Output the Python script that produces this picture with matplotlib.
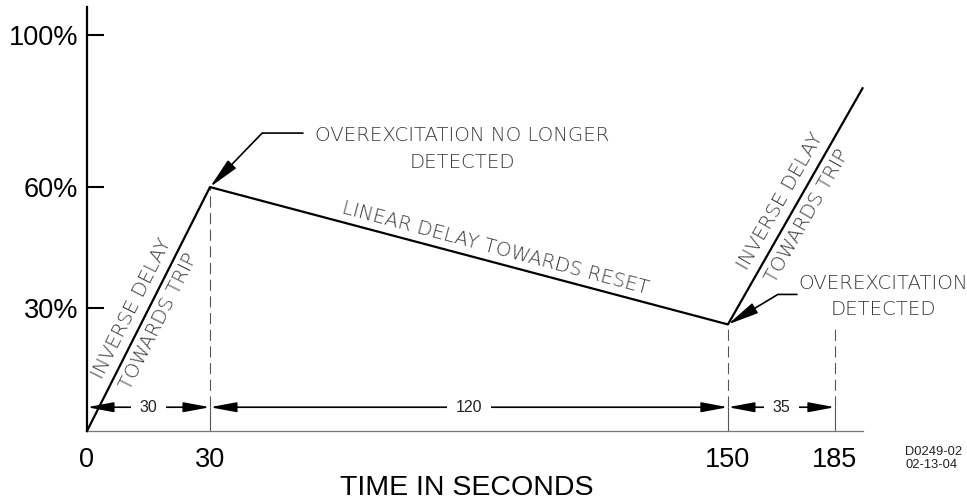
import numpy as np
import matplotlib
matplotlib.use("Agg")
import matplotlib.pyplot as plt

plt.rcParams['font.family'] = ['Liberation Sans', 'DejaVu Sans']

# --- chart values ---
time_s = [0, 30, 150, 194]
trip_pct = [0, 60, 26, 86]
x_ticks = [0, 30, 150, 185]
y_ticks = [30, 60, 100]
y_tick_labels = ['30%', '60%', '100%']
dim_edges = [0, 30, 150, 185]
dim_labels = ['30', '120', '35']
ext_x = [30, 150, 185]
ext_top = [60, 26, 26]
dim_level = 5.8

# the drawing is not to scale, so map seconds / percent piecewise onto drawing units
x_knots = [0, 30, 150, 185, 200]
x_draw = [0, 123, 641, 748, 794]
y_knots = [0, 30, 60, 100, 110]
y_draw = [0, 123, 244, 396, 434]


def piecewise(src, dst):
    src = np.asarray(src, float)
    dst = np.asarray(dst, float)
    lo = (dst[1] - dst[0]) / (src[1] - src[0])
    hi = (dst[-1] - dst[-2]) / (src[-1] - src[-2])

    def f(v):
        v = np.asarray(v, float)
        out = np.interp(v, src, dst)
        out = np.where(v < src[0], dst[0] + (v - src[0]) * lo, out)
        out = np.where(v > src[-1], dst[-1] + (v - src[-1]) * hi, out)
        return out
    return f


cad = dict(family=['DejaVu Sans'], fontweight='light', color='#3a3a3a', fontsize=14.2)

fig = plt.figure(figsize=(9.67, 5.01), dpi=100)
ax = fig.add_axes([87 / 967, 70 / 501, 776 / 967, 424 / 501])
ax.set_xscale('function', functions=(piecewise(x_knots, x_draw), piecewise(x_draw, x_knots)))
ax.set_yscale('function', functions=(piecewise(y_knots, y_draw), piecewise(y_draw, y_knots)))
ax.set_xlim(0, 194.16)
ax.set_ylim(0, 107.4)

for s in ['top', 'right']:
    ax.spines[s].set_visible(False)
ax.spines['left'].set_color('black')
ax.spines['left'].set_linewidth(1.6)
ax.spines['bottom'].set_color('#777777')
ax.spines['bottom'].set_linewidth(0.9)

ax.set_xticks(x_ticks)
ax.set_xticklabels([str(t) for t in x_ticks])
ax.set_yticks(y_ticks)
ax.set_yticklabels(y_tick_labels)
ax.tick_params(axis='y', direction='in', length=12.2, width=1.5, color='black', pad=6.5, labelsize=19.5)
ax.tick_params(axis='x', length=0, pad=11.5, labelsize=19.5)
ax.set_xlabel('TIME IN SECONDS', fontsize=20.5)
ax.xaxis.set_label_coords(0.49, -0.104)

# main curve
ax.plot(time_s, trip_pct, color='black', lw=1.6, clip_on=False, zorder=4)

# extension lines: solid below the dimension line, dashed above
ax.vlines(ext_x, 0, dim_level, colors='#555555', lw=0.8)
ax.vlines(ext_x, dim_level, ext_top, colors='#555555', lw=0.8, linestyles=(0, (10, 5)))

# dimension arrows
for i, lab in enumerate(dim_labels):
    a, b = dim_edges[i], dim_edges[i + 1]
    ax.annotate('', xy=(a, dim_level), xytext=(b, dim_level),
                arrowprops=dict(arrowstyle='<|-|>,head_length=1.6,head_width=0.3', mutation_scale=10,
                                color='black', lw=1.2, shrinkA=0, shrinkB=0))
    ax.text((a + b) / 2, dim_level, lab, ha='center', va='center', fontsize=11.5, color='#222222',
            bbox=dict(boxstyle='square,pad=0.55', fc='white', ec='none'), zorder=5)


def along(p_a, p_b, frac, offset, text, **kw):
    d0 = ax.transData.transform(p_a)
    d1 = ax.transData.transform(p_b)
    d = d1 - d0
    ang = np.degrees(np.arctan2(d[1], d[0]))
    n = np.array([-d[1], d[0]]) / np.hypot(d[0], d[1])
    x, y = ax.transData.inverted().transform(d0 + frac * d + offset * n)
    ax.text(x, y, text, rotation=ang, rotation_mode='anchor', ha='center', va='center',
            multialignment='center', **kw)


pts = list(zip(time_s, trip_pct))
along(pts[0], pts[1], 0.475, 0, 'INVERSE DELAY\nTOWARDS TRIP', linespacing=1.75, **cad)
along(pts[1], pts[2], 0.544, 14, 'LINEAR DELAY TOWARDS RESET', **cad)
along(pts[2], pts[3], 0.49, 0, 'INVERSE DELAY\nTOWARDS TRIP', linespacing=1.75, **cad)

# leader annotations
head = '-|>,head_length=1.9,head_width=0.35'
ax.annotate('', xy=pts[1], xytext=(93, 54), textcoords='offset pixels',
            arrowprops=dict(arrowstyle=head, mutation_scale=10, color='black', lw=1.2,
                            connectionstyle='angle,angleA=0,angleB=46,rad=0', shrinkA=0, shrinkB=0))
ax.annotate('OVEREXCITATION NO LONGER\nDETECTED', xy=pts[1], xytext=(252, 38), textcoords='offset pixels',
            ha='center', va='center', multialignment='center', linespacing=1.5, **cad)

ax.annotate('', xy=pts[2], xytext=(69, 30), textcoords='offset pixels',
            arrowprops=dict(arrowstyle=head, mutation_scale=10, color='black', lw=1.2,
                            connectionstyle='angle,angleA=0,angleB=31,rad=0', shrinkA=0, shrinkB=0))
ax.annotate('OVEREXCITATION\nDETECTED', xy=pts[2], xytext=(155, 28), textcoords='offset pixels',
            ha='center', va='center', multialignment='center', linespacing=1.5, annotation_clip=False, **cad)

fig.text(905 / 967, 1 - 458.5 / 501, 'D0249-02\n02-13-04', fontsize=9.3, ha='left', va='center',
         linespacing=1.2, color='#222222')

fig.savefig('out.png', dpi=100, facecolor='white')
